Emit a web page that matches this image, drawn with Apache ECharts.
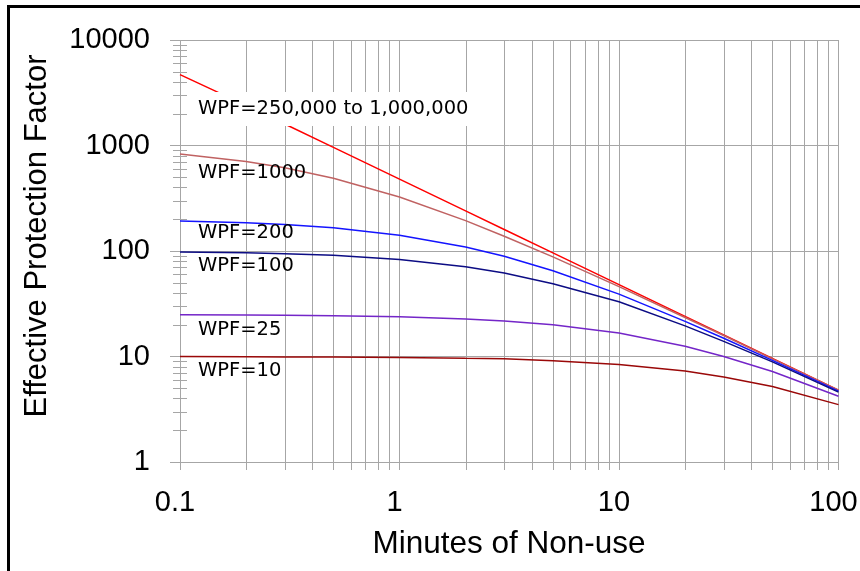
<!DOCTYPE html>
<html>
<head>
<meta charset="utf-8">
<script src="https://cdn.jsdelivr.net/npm/echarts@6/dist/echarts.min.js"></script>
<style>
  html, body { margin: 0; padding: 0; background: #fff; }
  #chart { width: 860px; height: 571px; }
</style>
</head>
<body>
<div id="chart"></div>
<script>
// minutes of non-use (x) and effective protection factor for each WPF curve (y)
const minutes = [0.1, 0.2, 0.3, 0.5, 1, 2, 3, 5, 10, 20, 30, 50, 100]
const epfHigh = [4700, 2400, 1600, 960, 480, 240, 160, 96, 48, 24, 16, 9.6, 4.8]
const epf1000 = [830, 705, 615, 490, 325, 194, 138, 88, 46, 23.4, 15.8, 9.5, 4.8]
const epf200 = [192, 185, 178, 166, 141, 109, 89, 65, 39, 21.5, 14.9, 9.2, 4.7]
const epf100 = [98, 96, 94, 91, 83, 71, 62, 49, 33, 19.5, 13.9, 8.9, 4.6]
const epf25 = [24.9, 24.7, 24.6, 24.4, 23.8, 22.7, 21.7, 20, 16.7, 12.5, 10, 7.2, 4.2]
const epf10 = [10, 9.95, 9.9, 9.9, 9.8, 9.6, 9.5, 9.1, 8.4, 7.3, 6.4, 5.2, 3.5]

const curveNames = ['WPF=250,000 to 1,000,000', 'WPF=1000', 'WPF=200', 'WPF=100', 'WPF=25', 'WPF=10']

// minor tick positions on the log axes
const minorX = [0.2, 0.3, 0.4, 0.5, 0.6, 0.7, 0.8, 0.9, 2, 3, 4, 5, 6, 7, 8, 9, 20, 30, 40, 50, 60, 70, 80, 90]
const minorY = [2, 3, 4, 5, 6, 7, 8, 9, 20, 30, 40, 50, 60, 70, 80, 90,
  200, 300, 400, 500, 600, 700, 800, 900, 2000, 3000, 4000, 5000, 6000, 7000, 8000, 9000]

const gridColor = '#a6a6a6'
const tickFont = 'Liberation Sans, Arial, sans-serif'
const labelFont = 'DejaVu Sans, Verdana, sans-serif'

const chart = echarts.init(document.getElementById('chart'))

const pair = (ys) => minutes.map((x, i) => [x, ys[i]])

const lineSeries = (name, ys, color) => ({
  name,
  type: 'line',
  data: pair(ys),
  showSymbol: false,
  smooth: false,
  z: 3,
  lineStyle: { color, width: 1.5 },
})

const crisp = (v) => Math.round(v) + 0.5

const option = {
  animation: false,
  backgroundColor: '#fff',
  grid: { left: 180, right: 21.5, top: 40, bottom: 109, outerBoundsMode: 'none', containLabel: false },
  xAxis: {
    type: 'log',
    logBase: 10,
    min: 0.1,
    max: 100,
    interval: 1,
    axisLine: { show: false },
    axisTick: { show: true, length: 8, lineStyle: { color: gridColor } },
    splitLine: { show: true, lineStyle: { color: gridColor, width: 1 } },
    axisLabel: {
      color: '#000',
      fontSize: 29,
      fontFamily: tickFont,
      margin: 26,
      padding: [0, 10, 0, 0],
      formatter: (v) => String(+v.toPrecision(6)),
    },
  },
  yAxis: {
    type: 'log',
    logBase: 10,
    min: 1,
    max: 10000,
    interval: 1,
    axisLine: { show: false },
    axisTick: { show: true, length: 10, lineStyle: { color: gridColor } },
    splitLine: { show: true, lineStyle: { color: gridColor, width: 1 } },
    axisLabel: {
      color: '#000',
      fontSize: 29,
      fontFamily: tickFont,
      margin: 30,
      formatter: (v) => String(Math.round(v)),
    },
  },
  graphic: [
    {
      type: 'rect',
      z: 100,
      silent: true,
      shape: { x: 8.5, y: 6.5, width: 1000, height: 1000 },
      style: { fill: 'none', stroke: '#000', lineWidth: 3 },
    },
    {
      type: 'text',
      z: 100,
      silent: true,
      rotation: Math.PI / 2,
      x: 37,
      y: 236,
      style: {
        text: 'Effective Protection Factor',
        font: '31px ' + tickFont,
        fill: '#000',
        align: 'center',
        verticalAlign: 'middle',
      },
    },
    {
      type: 'text',
      z: 100,
      silent: true,
      x: 509,
      y: 544,
      style: {
        text: 'Minutes of Non-use',
        font: '31.5px ' + tickFont,
        fill: '#000',
        align: 'center',
        verticalAlign: 'middle',
      },
    },
    {
      type: 'text',
      z: 100,
      silent: true,
      x: 187,
      y: 109,
      style: {
        text: curveNames[0],
        font: '19.5px ' + labelFont,
        fill: '#000',
        verticalAlign: 'middle',
        backgroundColor: '#fff',
        padding: [7, 8, 7, 11],
      },
    },
    ...[[1, 173], [2, 233], [3, 266], [4, 330], [5, 371]].map(([i, y]) => ({
      type: 'text',
      z: 100,
      silent: true,
      x: 198,
      y,
      style: {
        text: curveNames[i],
        font: '19.5px ' + labelFont,
        fill: '#000',
        verticalAlign: 'middle',
      },
    })),
  ],
  series: [
    {
      name: 'minor x grid',
      type: 'custom',
      silent: true,
      clip: false,
      z: 1,
      data: minorX.map((x) => [x, 1]),
      encode: { x: 0, y: 1 },
      renderItem: (params, api) => {
        const x = api.value(0)
        const top = api.coord([x, 10000])
        const bot = api.coord([x, 1])
        return {
          type: 'line',
          shape: { x1: crisp(top[0]), y1: top[1], x2: crisp(bot[0]), y2: bot[1] + 8 },
          style: { stroke: gridColor, lineWidth: 1 },
        }
      },
    },
    {
      name: 'minor y ticks',
      type: 'custom',
      silent: true,
      clip: false,
      z: 1,
      data: minorY.map((y) => [0.1, y]),
      encode: { x: 0, y: 1 },
      renderItem: (params, api) => {
        const p = api.coord([api.value(0), api.value(1)])
        return {
          type: 'line',
          shape: { x1: p[0] - 7, y1: crisp(p[1]), x2: p[0] + 7, y2: crisp(p[1]) },
          style: { stroke: gridColor, lineWidth: 1 },
        }
      },
    },
    lineSeries(curveNames[0], epfHigh, '#ff0000'),
    lineSeries(curveNames[1], epf1000, '#c06262'),
    lineSeries(curveNames[2], epf200, '#1414ff'),
    lineSeries(curveNames[3], epf100, '#0c0c84'),
    lineSeries(curveNames[4], epf25, '#7426c8'),
    lineSeries(curveNames[5], epf10, '#9a0808'),
  ],
}

chart.setOption(option)
</script>
</body>
</html>
